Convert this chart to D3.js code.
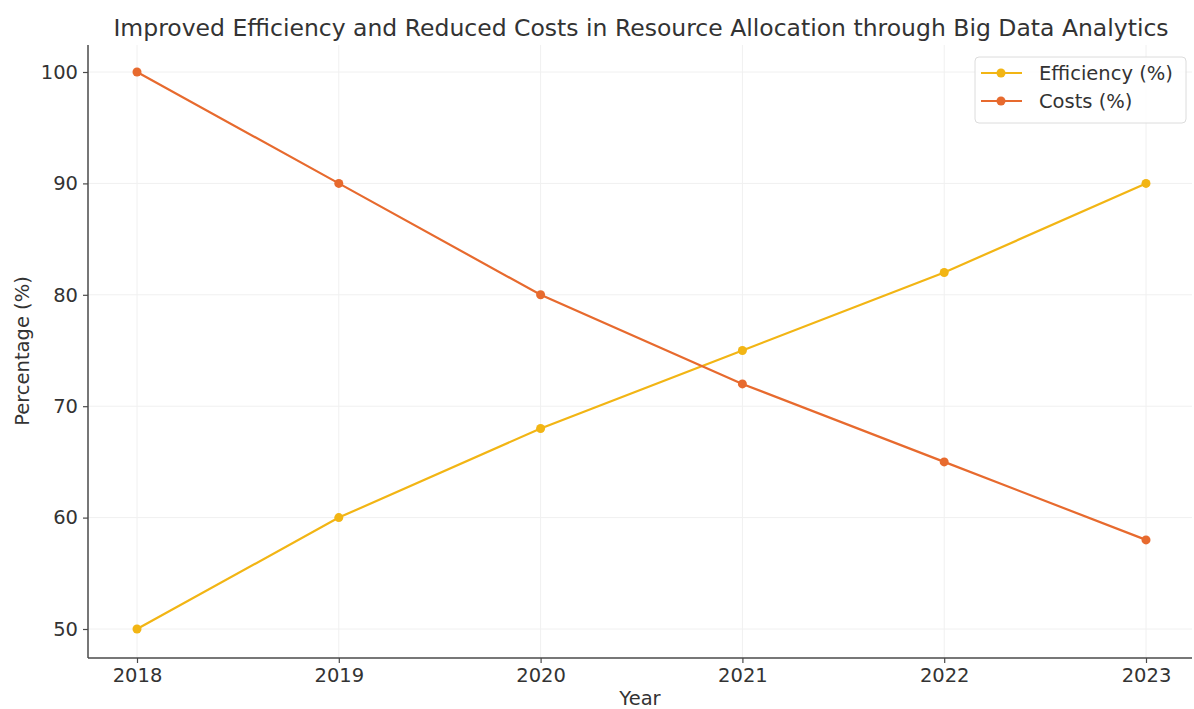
<!DOCTYPE html>
<html>
<head>
<meta charset="utf-8">
<script src="https://cdn.jsdelivr.net/npm/d3@7"></script>
<style>
  body { margin: 0; background: #fff; }
  svg { display: block; font-family: "DejaVu Sans", sans-serif; }
</style>
</head>
<body>
<svg id="chart" width="1194" height="709"></svg>
<script>
// Data
const years = [2018, 2019, 2020, 2021, 2022, 2023];
const efficiency = [50, 60, 68, 75, 82, 90];
const costs = [100, 90, 80, 72, 65, 58];
const yTicks = [50, 60, 70, 80, 90, 100];
const seriesNames = ["Efficiency (%)", "Costs (%)"];
const seriesColors = ["#f2b514", "#e76a2e"];

const svg = d3.select("#chart");
const margin = { left: 88, right: 1192, top: 45, bottom: 658 };

const x = d3.scaleLinear().domain([2018, 2023]).range([137, 1146]);
const y = d3.scaleLinear().domain([50, 100]).range([629, 72]);

// Grid
const grid = svg.append("g");
grid.selectAll("line.gx").data(years).enter().append("line")
  .attr("x1", d => x(d)).attr("x2", d => x(d))
  .attr("y1", margin.top).attr("y2", margin.bottom)
  .attr("stroke", "#f0f0f0").attr("stroke-width", 1);
grid.selectAll("line.gy").data(yTicks).enter().append("line")
  .attr("x1", margin.left).attr("x2", margin.right)
  .attr("y1", d => y(d)).attr("y2", d => y(d))
  .attr("stroke", "#f0f0f0").attr("stroke-width", 1);

// Axes
const xAxis = d3.axisBottom(x).tickValues(years).tickFormat(d3.format("d")).tickSize(5).tickPadding(5);
const yAxis = d3.axisLeft(y).tickValues(yTicks).tickSize(5).tickPadding(5);

const gx = svg.append("g").attr("transform", `translate(0,${margin.bottom})`).call(xAxis);
gx.select(".domain").attr("d", `M${margin.left},0H${margin.right}`);
const gy = svg.append("g").attr("transform", `translate(${margin.left},0)`).call(yAxis);
gy.select(".domain").attr("d", `M0,${margin.top}V${margin.bottom}`);

[gx, gy].forEach(g => {
  g.select(".domain").attr("stroke", "#4a4a4a").attr("stroke-width", 1.5);
  g.selectAll(".tick line").attr("stroke", "#4a4a4a").attr("stroke-width", 1.2);
  g.selectAll(".tick text").attr("fill", "#333").style("font-size", "19.5px")
    .style("font-family", "'DejaVu Sans', sans-serif");
});

// Axis titles
svg.append("text").attr("x", 640).attr("y", 705).attr("text-anchor", "middle")
  .attr("fill", "#333").style("font-size", "19.5px").text("Year");
svg.append("text").attr("transform", "translate(29,351) rotate(-90)")
  .attr("text-anchor", "middle").attr("fill", "#333").style("font-size", "19.5px")
  .text("Percentage (%)");

// Title
svg.append("text").attr("x", 641).attr("y", 36).attr("text-anchor", "middle")
  .attr("fill", "#333").style("font-size", "23.5px")
  .text("Improved Efficiency and Reduced Costs in Resource Allocation through Big Data Analytics");

// Lines
const allSeries = [efficiency, costs];
const line = d3.line().x((d, i) => x(years[i])).y(d => y(d));
allSeries.forEach((vals, s) => {
  svg.append("path").datum(vals).attr("d", line)
    .attr("fill", "none").attr("stroke", seriesColors[s]).attr("stroke-width", 2.2);
  svg.selectAll(null).data(vals).enter().append("circle")
    .attr("cx", (d, i) => x(years[i])).attr("cy", d => y(d)).attr("r", 4.5)
    .attr("fill", seriesColors[s]);
});

// Legend
const lg = svg.append("g");
lg.append("rect").attr("x", 975).attr("y", 57).attr("width", 211).attr("height", 66)
  .attr("rx", 4).attr("fill", "#fff").attr("fill-opacity", 0.8)
  .attr("stroke", "#dcdcdc").attr("stroke-width", 1);
seriesNames.forEach((name, i) => {
  const cy = 73 + i * 28;
  lg.append("line").attr("x1", 981).attr("x2", 1022).attr("y1", cy).attr("y2", cy)
    .attr("stroke", seriesColors[i]).attr("stroke-width", 2.2);
  lg.append("circle").attr("cx", 1001).attr("cy", cy).attr("r", 4.5).attr("fill", seriesColors[i]);
  lg.append("text").attr("x", 1039).attr("y", cy + 7).attr("fill", "#333")
    .style("font-size", "19.5px").text(name);
});
</script>
</body>
</html>
